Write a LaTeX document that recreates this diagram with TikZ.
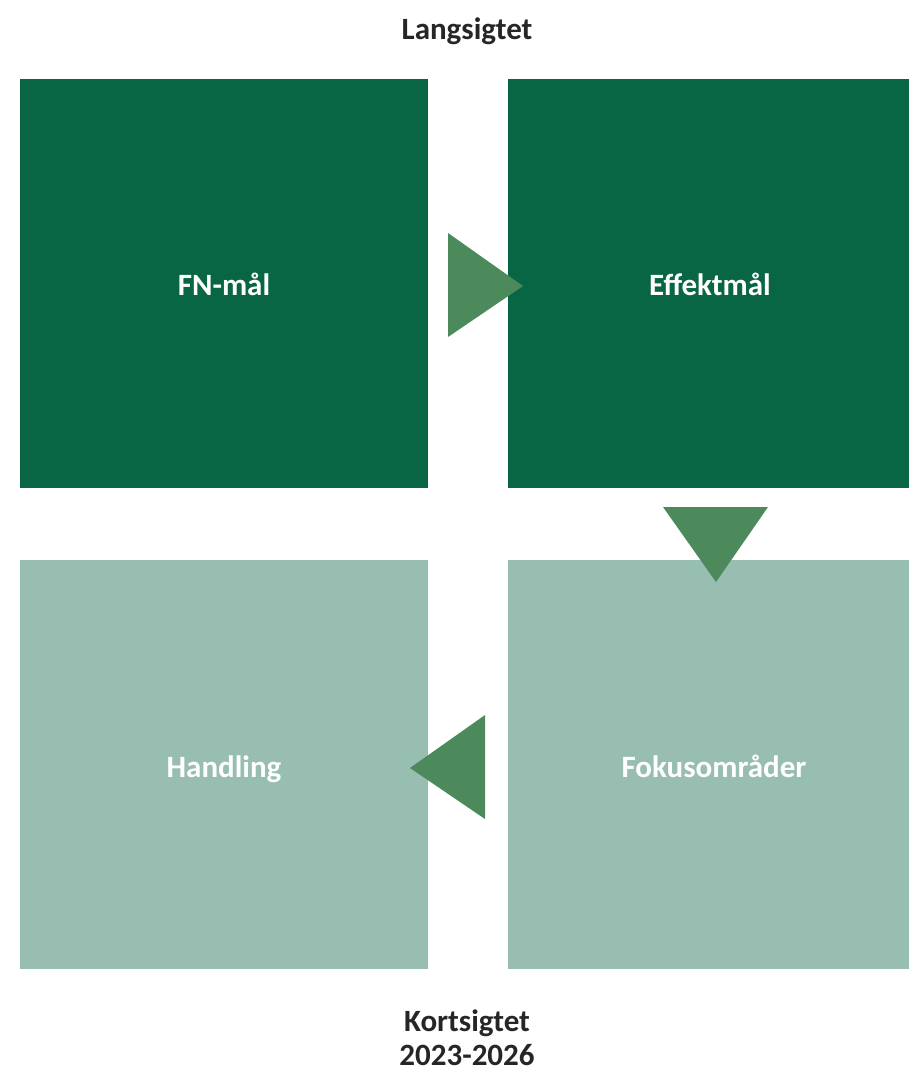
\documentclass[tikz,border=0pt]{standalone}
\usepackage{fontspec}
\setmainfont{Carlito}
\definecolor{darkg}{HTML}{096644}
\definecolor{lightg}{HTML}{97BEB0}
\definecolor{trig}{HTML}{4C8A5C}
\definecolor{txt}{HTML}{262626}
\begin{document}
\begin{tikzpicture}[x=1pt,y=-1pt,
  lbl/.style={font=\fontsize{31}{35}\selectfont\bfseries, text=white, anchor=base, inner sep=0pt},
  outer/.style={font=\fontsize{31}{34}\selectfont\bfseries, text=txt, align=center, anchor=base, inner sep=0pt},
  tri/.style={fill=trig, draw=none}]
\useasboundingbox (0,0) rectangle (909,1071);
\fill[darkg] (20,79) rectangle (428,488);
\fill[darkg] (508,79) rectangle (909,488);
\fill[lightg] (20,560) rectangle (428,969);
\fill[lightg] (508,560) rectangle (909,969);
\node[lbl] (fn) at (224,295) {FN-mål};
\node[lbl] (eff) at (710,295) {Effektmål};
\node[lbl] (hand) at (224,777) {Handling};
\node[lbl] (fok) at (714,777) {Fokusområder};
\node[outer] (lang) at (467,39) {Langsigtet};
\node[outer] (kort) at (467,1065) {Kortsigtet\\2023-2026};
\fill[tri] (448,233) -- (523,286) -- (448,337) -- cycle;
\fill[tri] (663,507) -- (768,507) -- (716,582) -- cycle;
\fill[tri] (485,715) -- (410,768) -- (485,819) -- cycle;
\end{tikzpicture}
\end{document}
